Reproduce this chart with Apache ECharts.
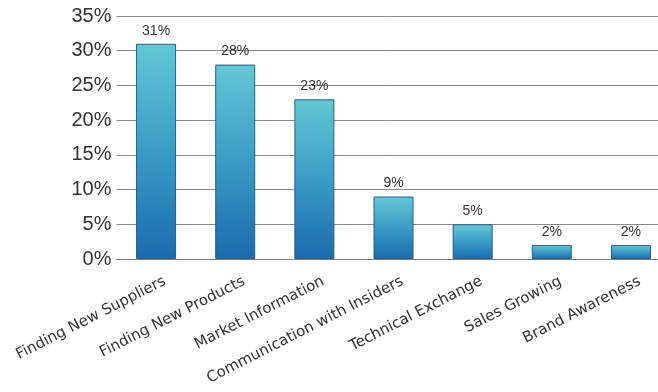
<!DOCTYPE html>
<html>
<head>
<meta charset="utf-8">
<script src="https://cdn.jsdelivr.net/npm/echarts@6/dist/echarts.min.js"></script>
<style>
  html, body { margin: 0; padding: 0; background: #fff; }
  #main { width: 658px; height: 392px; }
</style>
</head>
<body>
<div id="main"></div>
<script>
var categories = [
  'Finding New Suppliers',
  'Finding New Products',
  'Market Information',
  'Communication with Insiders',
  'Technical Exchange',
  'Sales Growing',
  'Brand Awareness'
];
var shares = [31, 28, 23, 9, 5, 2, 2];
var yTicks = { min: 0, max: 35, interval: 5 };

var myChart = echarts.init(document.getElementById('main'));

var option = {
  animation: false,
  grid: {
    left: 116.5,
    width: 554,
    top: 16,
    bottom: 133,
    outerBoundsMode: 'none'
  },
  xAxis: {
    type: 'category',
    data: categories,
    axisLine: { lineStyle: { color: '#7a7a7a', width: 1 } },
    axisTick: { show: false },
    axisLabel: {
      interval: 0,
      rotate: 27,
      margin: 26,
      padding: [0, -10, 0, 0],
      fontFamily: 'DejaVu Sans',
      fontSize: 15,
      color: '#333'
    }
  },
  yAxis: {
    type: 'value',
    min: yTicks.min,
    max: yTicks.max,
    interval: yTicks.interval,
    axisLine: { show: false },
    axisTick: { show: false },
    splitLine: { lineStyle: { color: '#8a8a8a', width: 1 } },
    axisLabel: {
      formatter: '{value}%',
      margin: 5,
      fontFamily: 'Liberation Sans',
      fontSize: 20,
      color: '#333'
    }
  },
  series: [{
    type: 'bar',
    data: shares,
    barWidth: 40,
    itemStyle: {
      color: new echarts.graphic.LinearGradient(0, 0, 0, 1, [
        { offset: 0, color: '#63c8d4' },
        { offset: 0.5, color: '#3a9cc6' },
        { offset: 1, color: '#1b6aad' }
      ]),
      borderColor: '#24608a',
      borderWidth: 1
    },
    label: {
      show: true,
      position: 'top',
      distance: 6,
      formatter: '{c}%',
      fontFamily: 'Liberation Sans',
      fontSize: 14,
      color: '#333'
    }
  }]
};
myChart.setOption(option);
</script>
</body>
</html>
